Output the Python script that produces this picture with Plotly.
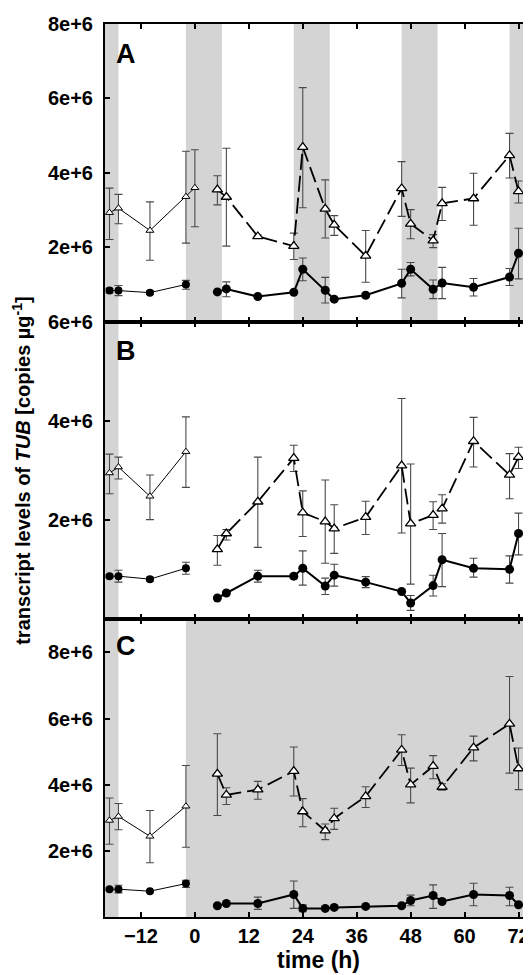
import plotly.graph_objects as go

# ---------------- data (values in units of 1e6 copies per µg) ----------------
t_pre = [-19, -17, -10, -2]
t_preA_tri = [-19, -17, -10, -2, 0]
t_trt = [5, 7, 14, 22, 24, 29, 31, 38, 46, 48, 53, 55, 62, 70, 72]

# Panel A (light/dark cycles)
preA_tri = [2.93, 3.05, 2.45, 3.36, 3.60]
preA_tri_hi = [3.59, 3.42, 3.22, 4.58, 4.62]
preA_tri_lo = [2.21, 2.63, 1.65, 2.11, 2.55]
preA_circ = [0.835, 0.835, 0.78, 1.00]
preA_circ_hi = [0.90, 0.97, 0.83, 1.11]
preA_circ_lo = [0.77, 0.70, 0.73, 0.87]
trtA_tri = [3.55, 3.35, 2.29, 2.03, 4.69, 3.03, 2.60, 1.77, 3.58, 2.63, 2.18, 3.18, 3.31, 4.47, 3.50]
trtA_tri_hi = [3.92, 4.66, 2.33, 2.38, 6.29, 3.81, 2.85, 2.45, 4.30, 3.01, 2.34, 3.61, 3.99, 5.06, 3.78]
trtA_tri_lo = [3.14, 2.03, 2.25, 1.67, 3.06, 2.25, 2.32, 1.06, 2.83, 2.23, 1.99, 2.72, 2.59, 3.86, 3.19]
trtA_circ = [0.80, 0.88, 0.675, 0.79, 1.41, 0.845, 0.605, 0.71, 1.03, 1.41, 0.87, 1.04, 0.925, 1.20, 1.84]
trtA_circ_hi = [0.80, 1.07, 0.675, 0.79, 1.71, 1.19, 0.605, 0.76, 1.41, 1.59, 1.12, 1.46, 1.16, 1.43, 2.51]
trtA_circ_lo = [0.80, 0.67, 0.675, 0.79, 1.10, 0.50, 0.605, 0.66, 0.64, 1.23, 0.62, 0.62, 0.69, 0.97, 1.15]

# Panel B (continuous light)
preB_tri = [2.95, 3.07, 2.48, 3.38]
preB_tri_hi = [3.33, 3.27, 2.91, 4.08]
preB_tri_lo = [2.53, 2.83, 2.01, 2.66]
preB_circ = [0.87, 0.87, 0.81, 1.03]
preB_circ_hi = [0.90, 0.99, 0.85, 1.15]
preB_circ_lo = [0.84, 0.75, 0.77, 0.91]
trtB_tri = [1.41, 1.73, 2.37, 3.25, 2.15, 1.97, 1.83, 2.06, 3.10, 1.93, 2.10, 2.23, 3.59, 2.91, 3.27]
trtB_tri_hi = [1.69, 1.81, 3.27, 3.51, 2.59, 2.81, 2.31, 2.38, 4.45, 3.13, 2.37, 2.51, 4.07, 3.34, 3.47]
trtB_tri_lo = [1.09, 1.60, 1.45, 2.98, 1.67, 1.13, 1.33, 1.71, 1.74, 0.71, 1.81, 1.94, 3.07, 2.43, 3.04]
trtB_circ = [0.43, 0.53, 0.87, 0.87, 1.03, 0.67, 0.89, 0.75, 0.56, 0.33, 0.68, 1.20, 1.03, 1.01, 1.73]
trtB_circ_hi = [0.43, 0.53, 0.99, 0.92, 1.38, 0.83, 1.11, 0.86, 0.56, 0.48, 0.89, 1.73, 1.23, 1.28, 2.14]
trtB_circ_lo = [0.43, 0.53, 0.75, 0.82, 0.69, 0.50, 0.67, 0.64, 0.56, 0.18, 0.47, 0.66, 0.85, 0.73, 1.30]

# Panel C (continuous dark)
preC_tri = [2.92, 3.04, 2.44, 3.35]
preC_tri_hi = [3.60, 3.43, 3.22, 4.58]
preC_tri_lo = [2.20, 2.64, 1.64, 2.11]
preC_circ = [0.84, 0.84, 0.78, 1.01]
preC_circ_hi = [0.88, 0.96, 0.81, 1.11]
preC_circ_lo = [0.80, 0.73, 0.75, 0.89]
trtC_tri = [4.33, 3.69, 3.85, 4.41, 3.19, 2.61, 2.98, 3.65, 5.05, 4.00, 4.56, 3.93, 5.12, 5.84, 4.49]
trtC_tri_hi = [5.54, 3.91, 4.10, 5.14, 3.58, 2.81, 3.29, 3.94, 5.51, 4.50, 4.88, 4.03, 5.47, 7.27, 5.11]
trtC_tri_lo = [3.07, 3.40, 3.56, 3.66, 2.73, 2.34, 2.65, 3.31, 4.58, 3.45, 4.18, 3.83, 4.72, 4.35, 3.85]
trtC_circ = [0.34, 0.41, 0.41, 0.68, 0.26, 0.26, 0.29, 0.32, 0.34, 0.50, 0.65, 0.47, 0.68, 0.65, 0.37]
trtC_circ_hi = [0.34, 0.41, 0.60, 1.09, 0.37, 0.26, 0.29, 0.32, 0.34, 0.66, 0.97, 0.47, 1.02, 0.90, 0.37]
trtC_circ_lo = [0.34, 0.41, 0.23, 0.26, 0.16, 0.26, 0.29, 0.32, 0.34, 0.34, 0.26, 0.47, 0.34, 0.34, 0.37]

# dark phases (h)
dark_A = [(-20, -17), (-2, 6), (22, 30), (46, 54), (70, 75)]
dark_B = [(-20, -17)]
dark_C = [(-20, -17), (-2, 75)]

x_ticks = [-12, 0, 12, 24, 36, 48, 60, 72]
x_range = [-20, 75]
yA_ticks = [2, 4, 6, 8]
yA_labels = ["2e+6", "4e+6", "6e+6", "8e+6"]
yB_ticks = [2, 4, 6]
yB_labels = ["2e+6", "4e+6", "6e+6"]
yC_ticks = [2, 4, 6, 8]
yC_labels = ["2e+6", "4e+6", "6e+6", "8e+6"]
panel_letters = ["A", "B", "C"]

# ---------------- figure ----------------
FONT = "Liberation Sans, Arial, sans-serif"
ERRC = "#4a4a4a"

fig = go.Figure()


def err(y, hi, lo):
    return dict(type="data", symmetric=False,
                array=[h - v for h, v in zip(hi, y)],
                arrayminus=[v - l for v, l in zip(y, lo)],
                color=ERRC, thickness=1.1, width=4)


def add_panel(n, ptx, ptri, ptri_hi, ptri_lo, pcirc, pcirc_hi, pcirc_lo,
              ttri, ttri_hi, ttri_lo, tcirc, tcirc_hi, tcirc_lo):
    xa = "x" if n == 1 else f"x{n}"
    ya = "y" if n == 1 else f"y{n}"
    fig.add_trace(go.Scatter(x=t_pre, y=pcirc, mode="lines+markers", xaxis=xa, yaxis=ya,
                             line=dict(color="black", width=1),
                             marker=dict(symbol="circle", size=8, color="black"),
                             error_y=err(pcirc, pcirc_hi, pcirc_lo), showlegend=False))
    fig.add_trace(go.Scatter(x=ptx, y=ptri, mode="lines+markers", xaxis=xa, yaxis=ya,
                             line=dict(color="black", width=1),
                             marker=dict(symbol="triangle-up", size=7, color="white",
                                         line=dict(color="black", width=1)),
                             error_y=err(ptri, ptri_hi, ptri_lo), showlegend=False))
    fig.add_trace(go.Scatter(x=t_trt, y=tcirc, mode="lines+markers", xaxis=xa, yaxis=ya,
                             line=dict(color="black", width=2),
                             marker=dict(symbol="circle", size=9, color="black"),
                             error_y=err(tcirc, tcirc_hi, tcirc_lo), showlegend=False))
    fig.add_trace(go.Scatter(x=t_trt, y=ttri, mode="lines+markers", xaxis=xa, yaxis=ya,
                             line=dict(color="black", width=1.8, dash="16px,6px"),
                             marker=dict(symbol="triangle-up", size=9, color="white",
                                         line=dict(color="black", width=1.3)),
                             error_y=err(ttri, ttri_hi, ttri_lo), showlegend=False))


add_panel(1, t_preA_tri, preA_tri, preA_tri_hi, preA_tri_lo, preA_circ, preA_circ_hi, preA_circ_lo,
          trtA_tri, trtA_tri_hi, trtA_tri_lo, trtA_circ, trtA_circ_hi, trtA_circ_lo)
add_panel(2, t_pre, preB_tri, preB_tri_hi, preB_tri_lo, preB_circ, preB_circ_hi, preB_circ_lo,
          trtB_tri, trtB_tri_hi, trtB_tri_lo, trtB_circ, trtB_circ_hi, trtB_circ_lo)
add_panel(3, t_pre, preC_tri, preC_tri_hi, preC_tri_lo, preC_circ, preC_circ_hi, preC_circ_lo,
          trtC_tri, trtC_tri_hi, trtC_tri_lo, trtC_circ, trtC_circ_hi, trtC_circ_lo)

for n, dark in zip([1, 2, 3], [dark_A, dark_B, dark_C]):
    xa = "x" if n == 1 else f"x{n}"
    ya = "y" if n == 1 else f"y{n}"
    for x0, x1 in dark:
        fig.add_shape(type="rect", xref=xa, yref=f"{ya} domain", x0=x0, x1=x1, y0=0, y1=1,
                      fillcolor="#d4d4d4", line=dict(width=0), layer="below")

tickfont = dict(family=FONT, size=20, color="black", weight="bold")
xcommon = dict(range=x_range, tickvals=x_ticks, ticks="inside", ticklen=5, tickwidth=2,
               tickcolor="black", showline=True, linewidth=2, linecolor="black",
               mirror="ticks", showgrid=False, zeroline=False, tickfont=tickfont)
ycommon = dict(ticks="inside", ticklen=5, tickwidth=2, tickcolor="black", showline=True,
               linewidth=2, linecolor="black", mirror="ticks", showgrid=False,
               zeroline=False, tickfont=tickfont, ticklabelstandoff=6)

fig.update_layout(
    width=531, height=975,
    margin=dict(l=97, r=5, t=7, b=66),
    paper_bgcolor="white", plot_bgcolor="white",
    font=dict(family=FONT, color="black"),
    xaxis=dict(**xcommon, anchor="y", showticklabels=False),
    xaxis2=dict(**xcommon, anchor="y2", matches="x", showticklabels=False),
    xaxis3=dict(**xcommon, anchor="y3", matches="x",
                title=dict(text="time (h)", font=dict(family=FONT, size=23, color="black", weight="bold"),
                           standoff=0)),
    yaxis=dict(**ycommon, domain=[2 / 3, 1], range=[0, 8], tickvals=yA_ticks, ticktext=yA_labels, anchor="x"),
    yaxis2=dict(**ycommon, domain=[1 / 3, 2 / 3], range=[0, 6], tickvals=yB_ticks, ticktext=yB_labels, anchor="x2"),
    yaxis3=dict(**ycommon, domain=[0, 1 / 3], range=[0, 9], tickvals=yC_ticks, ticktext=yC_labels, anchor="x3"),
)

for letter, ypos in zip(panel_letters, [0.9856, 0.6530, 0.3226]):
    fig.add_annotation(text=f"<b>{letter}</b>", xref="paper", yref="paper", x=0.022, y=ypos,
                       xanchor="left", yanchor="top", showarrow=False,
                       font=dict(family=FONT, size=27, color="black"))

fig.add_annotation(text="<b>transcript levels of <i>TUB</i> [copies µg<sup>-1</sup>]</b>",
                   xref="paper", yref="paper", x=-0.196, y=0.5, textangle=-90,
                   xanchor="center", yanchor="middle", showarrow=False,
                   font=dict(family=FONT, size=20, color="black"))

fig.write_html("out.html")
